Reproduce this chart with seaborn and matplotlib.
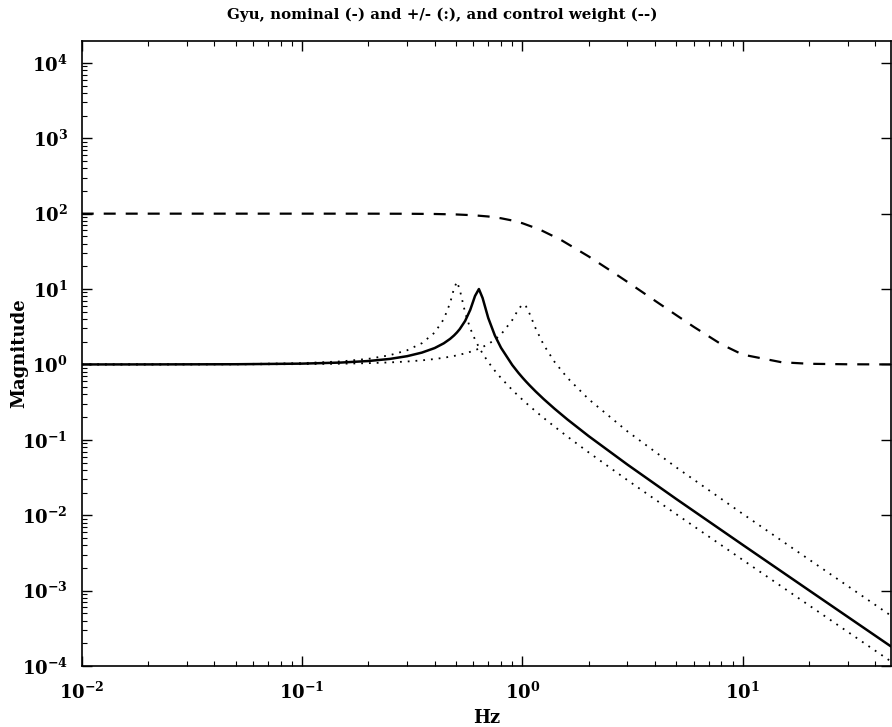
import numpy as np
import pandas as pd
import matplotlib
matplotlib.use("Agg")
import matplotlib.pyplot as plt
import seaborn as sns

# ---- data (Hz, magnitude) ----
freq_hz = [0.01, 0.02, 0.05, 0.1, 0.15, 0.2, 0.25, 0.3, 0.35, 0.4, 0.44, 0.47, 0.49,
           0.505, 0.52, 0.55, 0.58, 0.61, 0.635, 0.66, 0.7, 0.75, 0.8, 0.9, 0.96,
           1.0, 1.016, 1.04, 1.08, 1.15, 1.25, 1.4, 1.6, 2.0, 3.0, 5.0, 10.0, 20.0, 47.0]

gyu_nominal = [1.0, 1.001, 1.006, 1.025, 1.059, 1.110, 1.183, 1.287, 1.436, 1.649, 1.907,
               2.183, 2.428, 2.66, 2.946, 3.78, 5.29, 8.11, 10.0, 7.61, 4.14, 2.426, 1.665,
               0.982, 0.7726, 0.672, 0.6377, 0.5916, 0.5263, 0.4373, 0.347, 0.2586, 0.1867,
               0.1120, 0.0469, 0.01639, 0.004049, 0.001009, 0.0001826]

gyu_low = [1.0004, 1.0016, 1.0099, 1.0408, 1.0967, 1.186, 1.3245, 1.541, 1.913, 2.646, 3.988,
           6.53, 10.29, 12.5, 9.79, 4.867, 3.011, 2.132, 1.696, 1.397, 1.0776, 0.8255, 0.6601,
           0.4585, 0.3819, 0.3418, 0.3277, 0.3082, 0.2795, 0.2387, 0.1949, 0.1496, 0.1106,
           0.0681, 0.02916, 0.010306, 0.002557, 0.000638, 0.0001155]

gyu_high = [1.0001, 1.0004, 1.0024, 1.0097, 1.022, 1.0397, 1.0635, 1.094, 1.1325, 1.180, 1.2265,
            1.2667, 1.2965, 1.3208, 1.3466, 1.404, 1.470, 1.546, 1.619, 1.703, 1.863, 2.127,
            2.498, 3.880, 5.396, 6.230, 6.25, 5.861, 4.671, 2.990, 1.818, 1.0806, 0.6661,
            0.3458, 0.1293, 0.04304, 0.010429, 0.002587, 0.0004675]

weight_hz = [0.01, 0.1, 0.2, 0.3, 0.4, 0.5, 0.6, 0.7, 0.8, 0.9, 1.0, 1.2, 1.5, 2.0, 2.5,
             3.0, 4.0, 5.0, 6.0, 8.0, 10.0, 15.0, 20.0, 30.0, 47.0]
control_weight = [100.0, 100.0, 99.94, 99.68, 99.0, 97.6, 95.2, 91.7, 86.9, 81.1, 74.7, 61.5,
                  44.69, 27.06, 17.72, 12.43, 7.0, 4.5, 3.15, 1.85, 1.35, 1.07, 1.02,
                  1.005, 1.0]

title_text = "Gyu, nominal (-) and +/- (:), and control weight (--)"
x_label = "Hz"
y_label = "Magnitude"

# ---- style ----
sns.set_theme(style="ticks")
plt.rcParams["font.family"] = ["DejaVu Serif"]
plt.rcParams["mathtext.fontset"] = "dejavuserif"
plt.rcParams.update({
    "axes.linewidth": 1.2,
    "axes.edgecolor": "black",
    "text.color": "black",
    "axes.labelcolor": "black",
    "xtick.color": "black",
    "ytick.color": "black",
})

fig = plt.figure(figsize=(8.92, 7.27), dpi=100)
ax = fig.add_axes([0.0916, 0.0839, 0.9070, 0.8597])
ax.set_xscale("log")
ax.set_yscale("log")

df_plant = pd.DataFrame({"f": freq_hz, "nom": gyu_nominal, "low": gyu_low, "high": gyu_high})
df_w = pd.DataFrame({"f": weight_hz, "w": control_weight})

dot_style = dict(color="black", linewidth=1.3, linestyle=(0, (1, 3.3)))
sns.lineplot(data=df_plant, x="f", y="low", ax=ax, sort=False, **dot_style)
sns.lineplot(data=df_plant, x="f", y="high", ax=ax, sort=False, **dot_style)
sns.lineplot(data=df_plant, x="f", y="nom", ax=ax, sort=False, color="black", linewidth=1.8)
sns.lineplot(data=df_w, x="f", y="w", ax=ax, sort=False, color="black", linewidth=1.6,
             linestyle=(0, (5.4, 4.5)))

ax.set_xlim(0.01, 47)
ax.set_ylim(1e-4, 1.95e4)

ax.set_title(title_text, fontsize=10.8, fontweight="bold", x=0.445, pad=16, color="black")
ax.set_xlabel(x_label, fontsize=13, fontweight="bold", labelpad=5, color="black")
ax.set_ylabel(y_label, fontsize=13, fontweight="bold", color="black")
ax.yaxis.set_label_coords(-0.066, 0.5)

ax.set_yticks([10.0 ** k for k in range(-4, 5)])
ax.set_xticks([10.0 ** k for k in range(-2, 2)])
ax.tick_params(which="both", direction="in", top=True, right=True, labelsize=13,
               colors="black")
ax.tick_params(which="major", length=7, width=1.0)
ax.tick_params(which="major", axis="x", pad=11)
ax.tick_params(which="major", axis="y", pad=10)
ax.tick_params(which="minor", length=3.5, width=0.8)
ax.tick_params(which="minor", axis="y", right=False)
for lab in ax.get_xticklabels() + ax.get_yticklabels():
    lab.set_fontweight("bold")

fig.savefig("out.png", dpi=100)
